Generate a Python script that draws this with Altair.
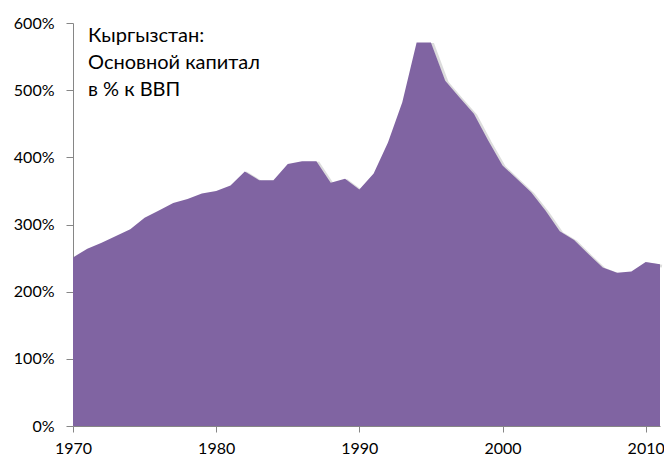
import altair as alt
import pandas as pd

years = list(range(1970, 2012))
values = [251, 264, 273, 283, 293, 310, 321, 332, 338, 346,
          350, 358, 379, 366, 366, 390, 394, 394, 362, 368,
          352, 376, 422, 482, 571, 571, 514, 489, 465, 425,
          388, 368, 348, 321, 290, 277, 256, 236, 228, 230,
          244, 241]
x_ticks = [1970, 1980, 1990, 2000, 2010]
y_ticks = [0, 100, 200, 300, 400, 500, 600]
title_lines = ["Кыргызстан:", "Основной капитал", "в % к ВВП"]

df = pd.DataFrame({"year": years, "value": values})

FONT = "Lato"

x_enc = alt.X("year:Q",
              scale=alt.Scale(domain=[1970, 2011], nice=False, zero=False),
              axis=alt.Axis(values=x_ticks, format="d", title=None, grid=False,
                            domainColor="#868686", tickColor="#868686",
                            tickSize=6, labelPadding=8, labelFont=FONT,
                            labelFontSize=16, labelColor="#000000",
                            labelFlush=False))
y_enc = alt.Y("value:Q",
              scale=alt.Scale(domain=[0, 600], nice=False),
              axis=alt.Axis(values=y_ticks, labelExpr="datum.value + '%'",
                            title=None, grid=False,
                            domainColor="#868686", tickColor="#868686",
                            tickSize=7, labelPadding=12, labelFont=FONT,
                            labelFontSize=16, labelColor="#000000"))

shadow = alt.Chart(df).mark_line(
    color="#9a9a9a", strokeWidth=3, opacity=0.35, xOffset=2, yOffset=2
).encode(x=x_enc, y=y_enc)

area = alt.Chart(df).mark_area(color="#8064A2", opacity=1).encode(
    x=x_enc, y=y_enc,
)

title_df = pd.DataFrame({"t": ["\n".join(title_lines)]})
title = alt.Chart(title_df).mark_text(
    align="left", baseline="alphabetic", font=FONT, fontSize=20,
    lineBreak="\n", lineHeight=27, color="#000000"
).encode(
    text="t:N",
    x=alt.value(15),
    y=alt.value(19),
)

chart = alt.layer(shadow, area, title).properties(
    width=587, height=403,
    padding={"left": 65, "top": 15, "right": 4, "bottom": 30},
    autosize="none",
).configure_view(stroke=None)

chart.save("out.html", embed_options={"renderer": "svg", "actions": False})
